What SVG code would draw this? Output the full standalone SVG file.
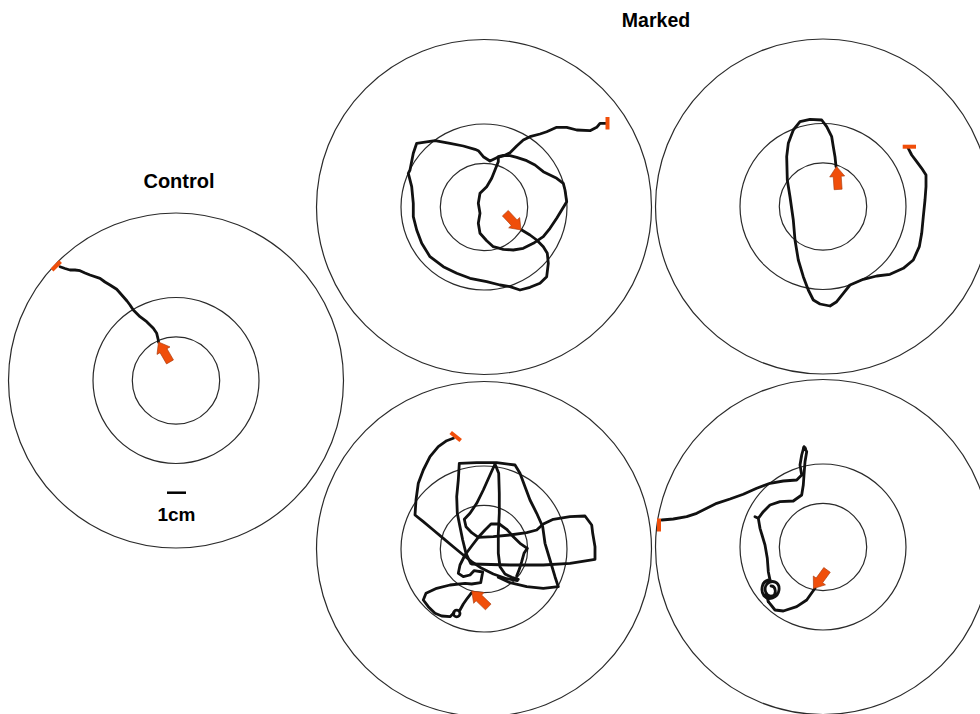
<svg xmlns="http://www.w3.org/2000/svg" width="980" height="714" viewBox="0 0 980 714">
<defs>
<style>
.ring{fill:none;stroke:#2a2a2a;stroke-width:1.2}
.trk{fill:none;stroke:#111;stroke-width:2.8;stroke-linejoin:round;stroke-linecap:round}
.mk{stroke:#f04e0a;stroke-width:4;stroke-linecap:butt}
.arw{fill:#f04e0a;stroke:#a83a0c;stroke-width:0.6}
.lbl{font-family:"Liberation Sans",Arial,sans-serif;font-weight:bold;fill:#000;text-anchor:middle}
</style>
<g id="rings">
<circle class="ring" r="167.5"/>
<circle class="ring" r="83"/>
<circle class="ring" r="43.7"/>
</g>
<polygon id="arrow" class="arw" points="0,0 -10,-7.5 -10,-4 -23,-4 -23,4 -10,4 -10,7.5"/>
</defs>
<rect width="980" height="714" fill="#fff"/>

<text class="lbl" x="656" y="27" font-size="19.5">Marked</text>
<text class="lbl" x="179" y="188" font-size="20">Control</text>

<g id="control">
<use href="#rings" x="176" y="380.5"/>
<line x1="167" y1="492.7" x2="186" y2="492.7" stroke="#000" stroke-width="2.5"/>
<text class="lbl" x="176.5" y="521" font-size="19">1cm</text>
</g>
<g id="marked-top-middle"><use href="#rings" x="484" y="207"/></g>
<g id="marked-top-right"><use href="#rings" x="823" y="206.5"/></g>
<g id="marked-bottom-middle"><use href="#rings" x="484" y="549"/></g>
<g id="marked-bottom-right"><use href="#rings" x="823" y="547"/></g>

<g id="tracks">
<!-- control -->
<path class="trk" stroke-width="2.4" d="M60,266.7 L65,268.5 70,270 75,270 80,270.7 85,273 90,275 100,278.3 105,282 110,285 116.7,289.3 123.3,296.7 127,301 130,305 133.3,310 140,316.7 146.7,321.7 153.3,328.3 156.7,333.3 158.3,340 158.5,342"/>
<!-- top middle -->
<path class="trk" d="M606,123.3 L600,123.3 596.7,127.3 590,130.7 576.7,130 566.7,127.3 556.7,127.3 546.7,131.7 540,134 530,136.7 523.3,140 516.7,146 510,152.7 503.3,156 496.7,157.7 490,161 L483.3,156.7 478.3,150.7 475,149.3 463.3,146 450,143.3 435,140.7 416.7,143.3 413.3,153.3 410,170 408.3,173.3 411.7,186.7 413.3,203.3 413.3,216.7 416.7,230 421.7,243.3 430,256.7 443.3,266.7 456.7,273.3 470,278.3 486.7,281.7 500,285 510,286.7 520,290 530,287.3 540,283.3 546.7,276.7 548.3,263.3 547.3,253.3 543.3,246.7 536.7,240 530,235 521.7,230"/>
<path class="trk" d="M498.3,156.7 L498.3,161.7 495,170 491.7,178.3 486.7,186.7 480,193.3 478.3,203.3 480,213.3 478.3,223.3 480,233.3 486.7,240.7 493.3,246.7 503.3,249.3 513.3,250 523.3,248.3 533.3,243.3 543.3,236.7 550,228.3 556.7,218.3 561.7,210 566.7,201.7 565,190 563.3,183.3 556.7,178.3 543.3,171.7 535,165 526.7,160.7 516.7,157.3 510,155.7 503.3,155.3 498.3,156.7"/>
<!-- top right -->
<path class="trk" d="M908.3,148.3 L911.7,155 916.7,161.7 921.7,168.3 926,175 926,186.7 925,200 923.3,216.7 921.7,233.3 919.3,246.7 913.3,260 903.3,268.3 890,274.3 876.7,276 863.3,279.3 850,285 843.3,293.3 836.7,301.7 830,306 820,304 813.3,300 808.3,290 803.3,276.7 798.3,260 795,240 793.3,220 790,196.7 787.3,180 786.7,156.7 788.3,143.3 793.3,130 800,121.7 810,119.3 821.7,120 826.7,126.7 831.7,136.7 833.3,146.7 835,156.7 836,166.7"/>
<!-- bottom middle -->
<path class="trk" d="M453.3,438.3 L446.7,440.7 438.3,446.7 430,456.7 423.3,470 418.3,483.3 416,500 415,515 423.3,521.7 433.3,530 443.3,538.3 453.3,546.7 463.3,555 471.7,561.7 481.7,568.3 493.3,574 506.7,578.7 517.3,580.7"/>
<path class="trk" d="M471.7,564 L510,565 543.3,565 570,563.3 595,559.3 595,546.7 592.7,533.3 591.7,525 585,516 570,516.7 553.3,519.3 543.3,524 536.7,530 526.7,532.7 510,535 493.3,536.7 478.3,537.3"/>
<path class="trk" d="M470.7,563.3 L466,553.3 462.7,540 460,526.7 457.3,513.3 456.7,496.7 458.3,480 459.3,463.3 476.7,462.7 496.7,462.7 515,465 520,473.3 525,486.7 530,500 536.7,513.3 542.7,526.7 545,543.3 550,560 555,576.7 558.3,586.7 543.3,588.3 526.7,586.7 510,582.7 498.3,577.3"/>
<path class="trk" d="M478.3,537.3 L471.7,532.7 466,526.7 464.3,519.3 470,513.3 476.7,503.3 483.3,490 490,475 495,464 498.7,473.3 499.3,493.3 499.3,513.3 498.3,533.3 498.3,553.3 500,566.7 505,574 511.7,577.3 518.3,579.3"/>
<path class="trk" d="M516.7,576 L519.3,569.3 521.7,561.7 524,553.3 527.3,548.3 520,543.3 513.3,536.7 506.7,529.3 499.3,524 491,524 485,530 478.3,537.3 471.7,546 465,555 460,565 458.3,573.3 463.3,576.7 470,575 474,570.7 482.7,572 480.7,582.7 471.7,584 465,583.3 450,585 436.7,588.3 426,593.3 423.3,600 428.3,606.7 435,613.3 441.7,616 450,616.7 454,612.7 M460,610 L463.3,604 467.3,598.3 471.7,592.7"/>
<circle class="trk" cx="456.7" cy="613.5" r="3.3"/>
<!-- bottom right -->
<path class="trk" stroke-width="2.5" d="M661.7,520 L673.3,519 686.7,516.7 696.7,513.3 706.7,508.3 716.7,503.3 730,499 743.3,494.3 756.7,488.3 770,483.3 783.3,481 796.7,480 801.7,475 800,465 801.7,455 804,446.7 806.7,451.7 805,461.7 804,475 803.3,485 801.7,495 793.3,501 780,501.7 770,505 763.3,511.7 758.3,518.3 755,516.7 M758.3,518.3 L760,528.3 765,545 767.3,558.3 768.3,571.7 770,580 M768.3,601.7 L775,610 783.3,611 796.7,606.7 806.7,600 815,588.3"/>
<path class="trk" stroke-width="2.2" d="M770,580 C762,580 760,590 764,596 C768,601 778,598 779,590 C780,582 772,579 767,584 C763,589 766,597 772,596 C777,595 776,586 771,586 M766,594 L768.3,601.7"/>
<circle cx="804.5" cy="448.5" r="2.3" fill="#111"/>
</g>

<g id="markers">
<line class="mk" x1="52" y1="270" x2="60.5" y2="261.5"/>
<line class="mk" x1="607.5" y1="117" x2="607.5" y2="129.5"/>
<line class="mk" x1="902.7" y1="146.7" x2="916" y2="146.7"/>
<line class="mk" x1="450.7" y1="432.5" x2="460.7" y2="440.5"/>
<line class="mk" x1="659" y1="518.5" x2="659" y2="531.5"/>
</g>

<g id="arrows">
<use href="#arrow" transform="translate(158.5,342) rotate(-120)"/>
<use href="#arrow" transform="translate(521,230) rotate(47)"/>
<use href="#arrow" transform="translate(836.5,166.5) rotate(-94)"/>
<use href="#arrow" transform="translate(471.7,591) rotate(-136)"/>
<use href="#arrow" transform="translate(813.5,588.5) rotate(126)"/>
</g>
</svg>
